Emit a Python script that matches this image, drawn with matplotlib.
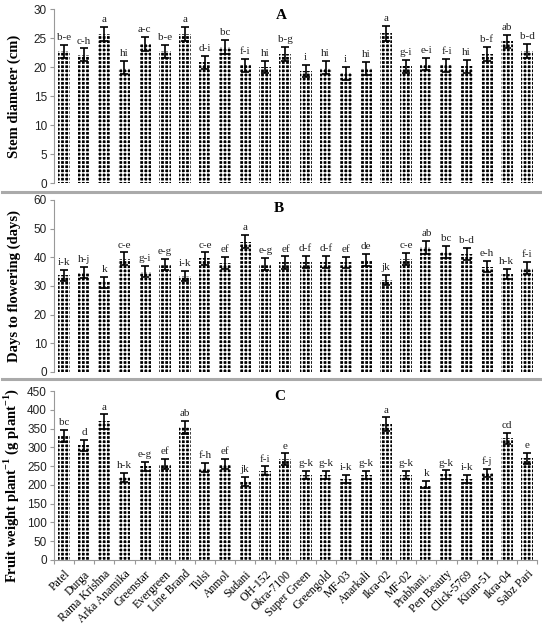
import matplotlib
matplotlib.use('Agg')
import matplotlib.pyplot as plt
from matplotlib.lines import Line2D

# Okra genotypes
genotypes = ['Patel', 'Durga', 'Rama Krishna', 'Arka Anamika', 'Greenstar',
             'Evergreen', 'Line Brand', 'Tulsi', 'Anmol', 'Sudani', 'OH-152',
             'Okra-7100', 'Super Green', 'Greengold', 'MF-03', 'Anarkali',
             'Ikra-02', 'MF-02', 'Prabhani..', 'Pen Beauty', 'Click-5769',
             'Kiran-51', 'Ikra-04', 'Sabz Pari']

# A: stem diameter (cm)
stem = [22.7, 22.1, 25.7, 19.9, 24.0, 22.7, 25.7, 20.8, 23.4, 20.3, 20.0,
        22.3, 19.3, 19.9, 18.9, 19.8, 25.8, 20.1, 20.5, 20.3, 20.1, 22.3,
        24.4, 22.8]
stem_err = [1.1, 1.1, 1.2, 1.1, 1.2, 1.1, 1.2, 1.1, 1.2, 1.1, 1.1, 1.2, 1.1,
            1.1, 1.1, 1.1, 1.3, 1.1, 1.1, 1.1, 1.1, 1.2, 1.2, 1.2]
stem_let = ['b-e', 'c-h', 'a', 'hi', 'a-c', 'b-e', 'a', 'd-i', 'bc', 'f-i',
            'hi', 'b-g', 'i', 'hi', 'i', 'hi', 'a', 'g-i', 'e-i', 'f-i', 'hi',
            'b-f', 'ab', 'b-d']

# B: days to flowering
days = [33.8, 34.6, 31.3, 39.5, 35.0, 37.5, 33.5, 39.6, 38.0, 45.5, 37.7,
        38.2, 38.5, 38.5, 38.2, 39.0, 32.1, 39.4, 43.5, 41.9, 41.1, 36.8,
        34.2, 36.3]
days_err = [1.9, 1.9, 1.9, 2.2, 1.9, 2.0, 1.9, 2.1, 2.0, 2.4, 2.0, 2.1, 2.1,
            2.1, 2.0, 2.1, 1.9, 2.1, 2.3, 2.2, 2.2, 2.0, 1.9, 2.0]
days_let = ['i-k', 'h-j', 'k', 'c-e', 'g-i', 'e-g', 'i-k', 'c-e', 'ef', 'a',
            'e-g', 'ef', 'd-f', 'd-f', 'ef', 'de', 'jk', 'c-e', 'ab', 'bc',
            'b-d', 'e-h', 'h-k', 'f-i']

# C: fruit weight per plant (g)
fruit = [331, 305, 369, 220, 249, 256, 353, 246, 256, 209, 238, 269, 227,
         227, 215, 227, 362, 226, 201, 228, 215, 231, 324, 271]
fruit_err = [16, 15, 19, 12, 13, 13, 17, 12, 13, 12, 11, 15, 11, 11, 11, 11,
             18, 11, 10, 11, 11, 11, 15, 15]
fruit_let = ['bc', 'd', 'a', 'h-k', 'e-g', 'ef', 'ab', 'f-h', 'ef', 'jk',
             'f-i', 'e', 'g-k', 'g-k', 'i-k', 'g-k', 'a', 'g-k', 'k', 'g-k',
             'i-k', 'f-j', 'cd', 'e']

W, H = 542, 629
fig = plt.figure(figsize=(W / 100, H / 100), dpi=100)

serif = 'Liberation Serif'
sans = 'Liberation Sans'
plt.rcParams['hatch.linewidth'] = 1.0
plt.rcParams['mathtext.fontset'] = 'custom'
plt.rcParams['mathtext.rm'] = 'Liberation Serif'
plt.rcParams['mathtext.bf'] = 'Liberation Serif:bold'


def box(top, bottom, left=54, right=537):
    return [left / W, 1 - bottom / H, (right - left) / W, (bottom - top) / H]


panels = [
    (box(9, 183), stem, stem_err, stem_let, 30, 5, 'Stem diameter (cm)', 'A',
     (0.46, 0.965), 0.5, 10.5, 0.5),
    (box(200, 372), days, days_err, days_let, 60, 10,
     'Days to flowering (days)', 'B', (0.455, 0.948), 1.0, 10.5, 0.5),
    (box(391, 560), fruit, fruit_err, fruit_let, 450, 50,
     r'Fruit weight plant$^{\mathbf{-1}}$ (g plant$^{\mathbf{-1}}$)', 'C',
     (0.455, 0.97), 7, 10.5, 0.44),
]

x = list(range(len(genotypes)))
for i, (pos, vals, errs, lets, ymax, step, ylab, tag, tagxy, pad, lsize, ly) in enumerate(panels):
    ax = fig.add_axes(pos)
    ax.bar(x, vals, width=0.6, color='black', edgecolor='white',
           hatch='++++', linewidth=0, zorder=2)
    ax.errorbar(x, vals, yerr=errs, fmt='none', ecolor='black',
                elinewidth=1.2, capsize=3, capthick=1.2, zorder=3)
    for xi, v, e, t in zip(x, vals, errs, lets):
        ax.text(xi, v + e + pad, t, ha='center', va='bottom',
                family=serif, fontsize=8, color='#222222')
    ax.set_xlim(-0.5, len(genotypes) - 0.5)
    ax.set_ylim(0, ymax)
    ax.set_yticks(range(0, ymax + 1, step))
    ax.tick_params(axis='y', labelsize=8.5, length=3, color='#999999',
                   labelcolor='#222222', pad=2)
    for lab in ax.get_yticklabels():
        lab.set_family(sans)
    for s in ['top', 'right']:
        ax.spines[s].set_visible(False)
    ax.spines['left'].set_color('#999999')
    ax.spines['left'].set_linewidth(0.8)
    ax.set_ylabel(ylab, family=serif, fontweight='bold', fontsize=lsize)
    ax.yaxis.set_label_coords(-0.068, ly)
    ax.text(tagxy[0], tagxy[1], tag, transform=ax.transAxes, family=serif,
            fontweight='bold', fontsize=11, ha='left', va='center')
    if i < 2:
        ax.spines['bottom'].set_visible(False)
        ax.set_xticks([])
    else:
        ax.spines['bottom'].set_color('#999999')
        ax.spines['bottom'].set_linewidth(0.8)
        ax.set_xticks([k - 0.5 for k in range(len(genotypes) + 1)], minor=False)
        ax.set_xticklabels([])
        ax.set_xticks(x, minor=True)
        ax.set_xticklabels(genotypes, minor=True, rotation=45, ha='right',
                           rotation_mode='anchor', family=serif, fontsize=8.5)
        ax.tick_params(axis='x', which='major', length=3, color='#999999')
        ax.tick_params(axis='x', which='minor', length=0, pad=6)

# grey separators between the panels
for yp in [192, 379]:
    fig.add_artist(Line2D([2 / W, 540 / W], [1 - yp / H, 1 - yp / H],
                          color='#aaaaaa', linewidth=2.2))

fig.savefig('out.png', dpi=100)
